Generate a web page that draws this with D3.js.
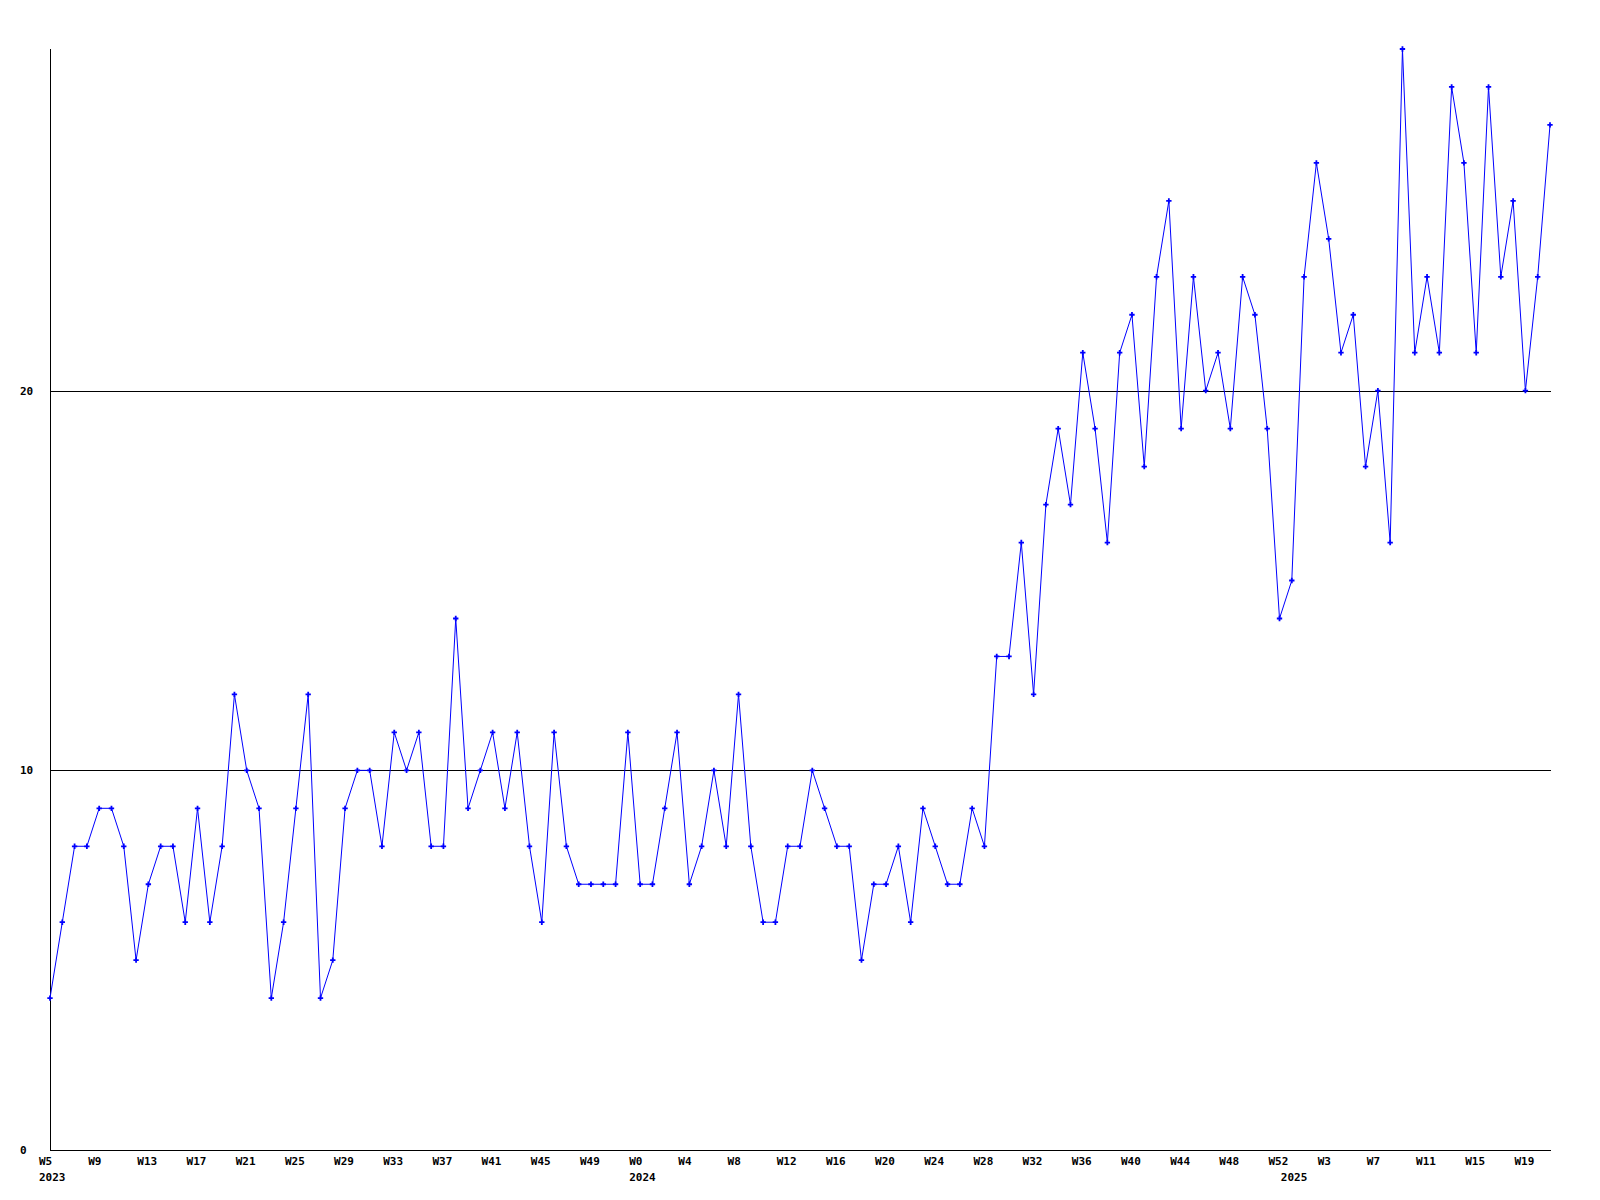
<!DOCTYPE html>
<html>
<head>
<meta charset="utf-8">
<script src="https://cdn.jsdelivr.net/npm/d3@7"></script>
<style>
  html, body { margin: 0; padding: 0; background: #fff; }
  svg text { font-family: "DejaVu Sans Mono", "Liberation Mono", monospace; font-weight: bold; font-size: 11px; fill: #000; }
</style>
</head>
<body>
<svg id="chart" width="1600" height="1200"></svg>
<script>
// ---- data ----
const years = ["2023", "2024", "2025"];
// week numbers per year (categories along x)
const weeks2023 = d3.range(5, 53);   // W5 .. W52
const weeks2024 = d3.range(0, 53);   // W0 .. W52
const weeks2025 = d3.range(0, 22);   // W0 .. W21
const weekGroups = [weeks2023, weeks2024, weeks2025];

const values = [
  4, 6, 8, 8, 9, 9, 8, 5, 7, 8, 8, 6, 9, 6, 8, 12, 10, 9, 4, 6,
  9, 12, 4, 5, 9, 10, 10, 8, 11, 10, 11, 8, 8, 14, 9, 10, 11, 9, 11, 8,
  6, 11, 8, 7, 7, 7, 7, 11, 7, 7, 9, 11, 7, 8, 10, 8, 12, 8, 6, 6,
  8, 8, 10, 9, 8, 8, 5, 7, 7, 8, 6, 9, 8, 7, 7, 9, 8, 13, 13, 16,
  12, 17, 19, 17, 21, 19, 16, 21, 22, 18, 23, 25, 19, 23, 20, 21, 19, 23, 22, 19,
  14, 15, 23, 26, 24, 21, 22, 18, 20, 16, 29, 21, 23, 21, 28, 26, 21, 28, 23, 25,
  20, 23, 27
];
const yTicks = [0, 10, 20];
const yMax = 29;
const labelEvery = 4;

// ---- build categories ----
const cats = [];
weekGroups.forEach((wk, yi) => {
  wk.forEach((w, j) => cats.push({ year: years[yi], week: "W" + w, firstOfYear: j === 0 }));
});
const data = cats.map((c, i) => ({ ...c, i, v: values[i] }));

// ---- layout ----
const mLeft = 50, mRight = 1550, mTop = 49, mBottom = 1150;
const svg = d3.select("#chart");

const x = d3.scaleLinear().domain([0, data.length - 1]).range([mLeft, mRight]);
const y = d3.scaleLinear().domain([0, yMax]).range([mBottom, mTop]);

// gridlines at y ticks (excluding 0 which is the axis)
svg.append("g").selectAll("line").data(yTicks.filter(t => t > 0)).join("line")
  .attr("x1", mLeft).attr("x2", mRight + 1)
  .attr("y1", d => Math.round(y(d)) + 0.5).attr("y2", d => Math.round(y(d)) + 0.5)
  .attr("stroke", "#000").attr("stroke-width", 1).attr("shape-rendering", "crispEdges");

// axes lines
svg.append("line").attr("x1", mLeft + 0.5).attr("x2", mLeft + 0.5).attr("y1", mTop).attr("y2", mBottom + 1)
  .attr("stroke", "#000").attr("shape-rendering", "crispEdges");
svg.append("line").attr("x1", mLeft).attr("x2", mRight + 1).attr("y1", mBottom + 0.5).attr("y2", mBottom + 0.5)
  .attr("stroke", "#000").attr("shape-rendering", "crispEdges");

// y labels
svg.append("g").selectAll("text").data(yTicks).join("text")
  .attr("x", 20).attr("y", d => y(d)).attr("dy", "0.35em")
  .attr("text-anchor", "start").text(d => d);

// x week labels every 4 points
svg.append("g").selectAll("text").data(data.filter(d => d.i % labelEvery === 0)).join("text")
  .attr("x", d => x(d.i) - 11).attr("y", mBottom + 15)
  .attr("text-anchor", "start").text(d => d.week);

// year labels at first point of each year
svg.append("g").selectAll("text").data(data.filter(d => d.firstOfYear)).join("text")
  .attr("x", d => x(d.i) - 11).attr("y", mBottom + 31)
  .attr("text-anchor", "start").text(d => d.year);

// line
const line = d3.line().x(d => x(d.i)).y(d => y(d.v));
svg.append("path").datum(data).attr("d", line)
  .attr("fill", "none").attr("stroke", "#0000ff").attr("stroke-width", 1);

// markers
svg.append("g").selectAll("path").data(data).join("path")
  .attr("transform", d => `translate(${x(d.i)},${y(d.v)})`)
  .attr("d", d3.symbol().type(d3.symbolCross).size(16))
  .attr("fill", "#0000ff");
</script>
</body>
</html>
